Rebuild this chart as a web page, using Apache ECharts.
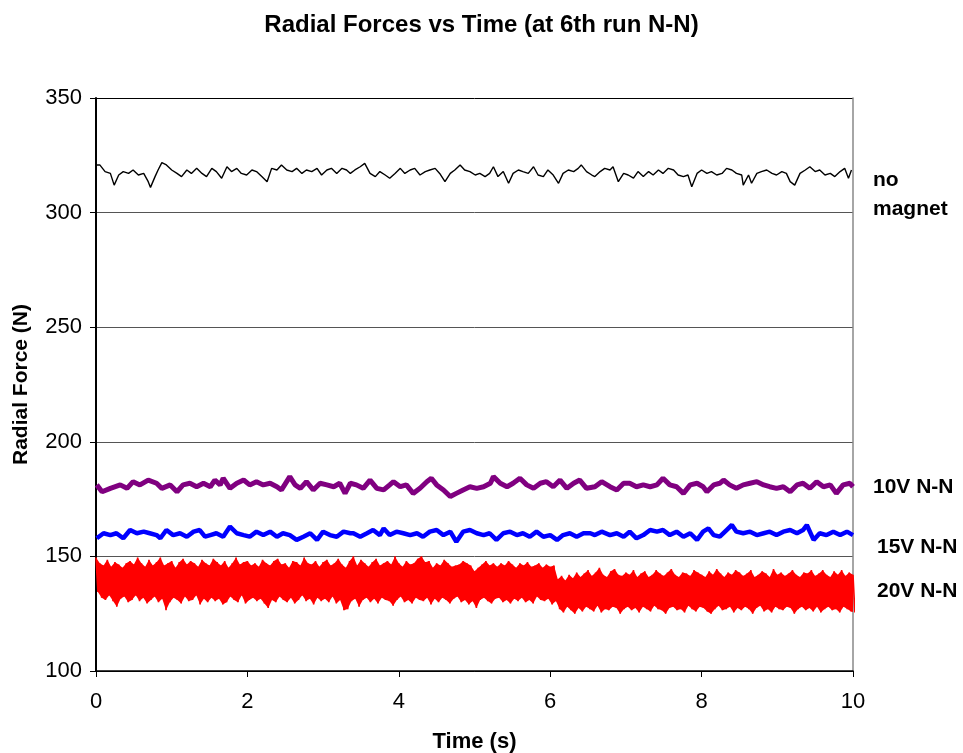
<!DOCTYPE html>
<html>
<head>
<meta charset="utf-8">
<script src="https://cdn.jsdelivr.net/npm/echarts@6/dist/echarts.min.js"></script>
<style>
html,body{margin:0;padding:0;background:#fff;}
#chart{width:963px;height:753px;}
</style>
</head>
<body>
<div id="chart"></div>
<script>
// ---- data ----
const titleText = "Radial Forces vs Time (at 6th run N-N)";
const xName = "Time (s)";
const yName = "Radial Force (N)";
const xTicks = [0, 2, 4, 6, 8, 10];
const yTicks = [100, 150, 200, 250, 300, 350];
const seriesNames = ["no magnet", "10V N-N", "15V N-N", "20V N-N"];

const blackT = [0.01,0.05,0.12,0.19,0.24,0.30,0.36,0.43,0.49,0.56,0.63,0.69,0.72,0.78,0.82,0.87,0.93,1.00,1.07,1.13,1.20,1.26,1.33,1.40,1.46,1.53,1.59,1.66,1.73,1.79,1.86,1.92,1.99,2.06,2.12,2.19,2.26,2.32,2.39,2.45,2.52,2.59,2.65,2.72,2.78,2.85,2.92,2.98,3.05,3.11,3.18,3.25,3.31,
3.36,3.42,3.49,3.55,3.62,3.69,3.75,3.82,3.88,3.95,4.02,4.08,4.15,4.21,4.28,4.35,4.41,4.48,4.54,4.61,4.68,4.74,4.81,4.87,4.94,5.01,5.07,5.14,5.20,5.25,5.31,5.38,5.45,5.51,5.58,5.64,5.71,5.78,5.84,5.91,5.97,6.04,6.11,6.17,6.24,6.31,6.37,6.41,6.48,6.55,
6.59,6.66,6.72,6.79,6.83,6.90,6.97,7.03,7.10,7.16,7.23,7.30,7.36,7.43,7.49,7.56,7.63,7.69,7.76,7.82,7.87,7.94,8.00,8.07,8.13,8.20,8.27,8.33,8.40,8.46,8.53,8.55,8.62,8.66,8.73,8.79,8.86,8.93,8.99,9.06,9.12,9.17,9.23,9.30,9.37,9.43,9.50,9.56,9.63,9.70,9.76,9.83,9.89,9.94,9.98];
const blackF = [320.8,320.8,317.9,317.1,312.0,316.4,317.9,317.1,318.6,316.4,317.1,313.5,311.0,315.7,318.6,321.8,320.8,318.6,317.1,315.7,318.6,317.1,319.3,317.1,315.7,319.3,317.9,315.0,320.0,317.9,319.3,317.1,316.4,318.6,317.9,315.7,313.5,319.3,318.6,320.8,318.6,317.9,319.3,317.1,318.6,317.9,319.3,316.4,318.6,319.3,317.1,319.3,318.6,
317.1,318.6,320.0,321.5,317.1,315.7,317.9,316.4,315.0,317.1,319.3,317.1,318.6,319.3,316.4,317.9,318.6,319.3,317.1,313.5,317.1,318.6,320.8,318.6,317.9,316.4,317.1,315.7,317.1,320.0,315.7,317.9,312.8,317.1,318.6,317.9,317.1,320.0,316.4,315.7,318.6,316.4,312.8,317.1,318.6,317.9,319.3,320.8,317.9,316.4,
315.7,317.9,319.3,318.6,320.0,313.5,317.1,316.4,315.0,317.9,315.7,317.9,316.4,318.6,317.1,319.3,318.6,316.4,315.7,316.4,311.3,317.1,318.6,317.1,317.9,316.4,317.1,319.3,318.6,317.1,316.4,312.0,316.4,312.8,317.1,317.9,318.6,317.1,316.4,317.9,317.1,313.5,312.0,317.1,318.6,320.0,317.9,318.6,316.4,317.1,315.7,317.9,319.3,315.0,318.6];

const purpleT = [0.01,0.08,0.19,0.32,0.41,0.49,0.58,0.69,0.80,0.87,0.98,1.07,1.15,1.24,1.33,1.42,1.51,1.57,1.64,1.68,1.77,1.86,1.95,2.03,2.12,2.21,2.30,2.39,2.45,2.56,2.63,2.70,2.78,2.87,2.96,3.05,3.14,3.22,3.29,
3.36,3.44,3.53,3.62,3.71,3.80,3.88,3.93,4.02,4.10,4.19,4.28,4.37,4.43,4.50,4.59,4.68,4.76,4.85,4.94,5.03,5.12,5.21,5.25,5.34,5.43,5.51,5.60,5.69,5.78,5.87,5.95,6.04,6.13,6.22,6.31,6.39,6.48,
6.59,6.68,6.79,6.88,6.97,7.05,7.14,7.23,7.32,7.41,7.49,7.58,7.67,7.76,7.85,7.94,8.02,8.07,8.16,8.24,8.29,8.37,8.46,8.55,8.64,8.73,8.82,8.90,8.99,9.08,9.17,9.26,9.34,9.43,9.52,9.61,9.70,9.78,9.87,9.96,10.0];
const purpleF = [181.2,178.2,179.7,181.2,179.7,182.6,181.2,183.3,181.9,179.7,181.2,178.2,181.2,181.9,180.4,181.9,180.4,183.3,181.2,184.1,179.7,181.9,183.3,181.2,182.6,181.2,181.9,180.4,179.0,184.8,181.2,179.7,182.6,179.0,181.9,181.2,180.4,181.9,177.5,
181.9,181.2,179.7,183.3,179.7,179.0,181.2,182.6,180.4,181.2,177.5,179.7,182.6,184.1,181.2,179.0,176.1,177.5,179.0,180.4,179.7,180.4,181.9,184.8,181.9,180.4,181.9,184.1,181.2,179.7,181.9,182.6,180.4,183.3,179.7,181.9,183.3,179.7,
180.4,182.6,180.4,179.0,181.9,181.9,180.4,181.2,180.4,181.2,184.1,181.2,180.4,177.5,181.2,181.9,180.4,178.2,181.2,181.9,183.3,181.2,179.7,181.2,181.9,182.6,181.2,180.4,179.7,180.4,178.2,181.2,181.9,179.7,182.6,180.4,181.2,177.5,181.2,181.9,180.4];

const blueT = [0.01,0.10,0.19,0.27,0.36,0.45,0.54,0.63,0.71,0.80,0.85,0.93,1.02,1.11,1.20,1.29,1.37,1.44,1.51,1.59,1.68,1.77,1.86,1.95,2.03,2.12,2.21,2.30,2.39,2.47,2.56,2.65,2.74,2.83,2.92,3.00,3.09,3.18,3.27,3.36,
3.40,3.49,3.58,3.66,3.75,3.80,3.88,3.97,4.06,4.15,4.24,4.32,4.41,4.50,4.59,4.68,4.76,4.85,4.94,5.03,5.12,5.20,5.29,5.38,5.47,5.56,5.64,5.73,5.82,5.91,6.00,6.09,6.17,6.26,6.35,6.44,
6.53,6.59,6.68,6.79,6.88,6.97,7.05,7.14,7.23,7.32,7.41,7.49,7.58,7.67,7.76,7.85,7.94,8.02,8.09,8.16,8.24,8.33,8.40,8.46,8.55,8.64,8.73,8.82,8.90,8.99,9.08,9.17,9.26,9.34,9.39,9.48,9.56,9.65,9.74,9.83,9.92,10.0];
const blueF = [157.9,160.1,159.3,160.1,157.9,161.5,160.1,160.8,160.1,159.3,157.9,161.5,159.3,160.1,158.6,160.8,161.5,158.6,159.3,160.1,158.6,163.0,160.1,159.3,158.6,160.8,159.3,160.8,158.6,160.1,159.3,157.2,158.6,160.1,157.2,160.8,159.3,158.6,160.8,160.1,
160.1,158.6,160.1,161.5,159.3,162.2,159.3,160.8,160.1,159.3,160.1,158.6,160.8,161.5,159.3,160.8,156.4,160.8,161.5,160.1,159.3,160.1,157.2,160.1,160.8,159.3,160.1,158.6,160.8,158.6,159.3,157.2,159.3,160.1,158.6,160.1,
160.1,159.3,160.8,159.3,160.1,158.6,160.8,157.9,159.3,161.5,160.8,161.5,159.3,160.8,158.6,160.1,157.2,160.8,162.2,159.3,158.6,161.5,163.7,160.8,160.1,160.8,159.3,160.1,160.8,159.3,160.8,161.5,160.1,161.5,163.7,157.2,160.1,159.3,160.8,159.3,160.8,159.3];

// 20V: upper and lower peaks of the noise band, one pair every 0.05 s
const redStep = 0.05;
const redHigh = [149.5,147,146,148.5,145.5,147.5,146.5,145,147,148,
146.5,149.5,147,145.5,148.5,146,147.5,149.5,146,147,
148,145,147.5,149,146.5,148,147,145.5,148.5,147,
146,149,147.5,146,148,145,147,149.5,146.5,147.5,
148,146,147,145.5,148.5,147,146,148,149,146.5,
147,145,148,147.5,146,149.5,147,146.5,148,145.5,
147.5,148.5,146,147,149,146.5,145,148,150,146,
148.5,147,145.5,147.5,149,146,147,148,146.5,150,
147,145.5,148,146.5,147,149,150,147.5,148,145,
147,146,148.5,147,145.5,146,146.5,148,147,146,
143.5,145,146.5,148,146,147,145.5,147,146,148,
146.5,145,147,146,147.5,145.5,146,147,145,146.5,
145.5,146,
140,141.5,139.5,142,140.5,143,141,142.5,
144,141.5,143,145,142,141,143.5,144.5,142,141.5,
143,142,144,141,142.5,143.5,141,142,144,142.5,
141.5,143,144.5,142,141,143,142.5,141.5,144,143,
142,141,143.5,142,144.5,142.5,141,143,142,144,
143,141.5,142.5,144,141,142,143.5,142.5,141,144.5,
142,143,141.5,142.5,144,142,141,143,142.5,144,
141.5,142.5,144,142,141,143.5,142,144,141.5,143,
142];
const redLow = [134.5,132,131,133,130.5,128,131.5,132.5,130,131,
133,130.5,132,129.5,131,132.5,130,131.5,126.5,130,
132,131,129.5,132.5,130.5,131,133,129,131.5,130,
132,130.5,131.5,129,130,132.5,131,130,133,129.5,
131,132,130.5,131.5,129.5,127.5,131,130,132.5,131,
130,132,129.5,131,133,130.5,131.5,129,132,130.5,
131.5,130,132.5,129.5,131,126.5,127,130.5,131.5,128,
131,132,130,131.5,129.5,132,131,130.5,128.5,131,
132.5,130,131,129.5,132,131,130.5,132,129,131.5,
130,132,131,129.5,131.5,132.5,130,131,129,130.5,
127.5,131,132,130.5,129.5,131.5,132,130,131,129.5,
131.5,130.5,132,130,131,129.5,132.5,131,130.5,131.5,
129,130.5,
127,125.5,128,126.5,125,127.5,126,128,
127,126,128.5,125.5,127,126.5,128,127.5,125,127,
128,126.5,127.5,125.5,128,127,126,128.5,127,126.5,
125,127.5,128,126.5,127,125.5,128.5,127,126,128,
127.5,126,125,127,128.5,126.5,127,128,125.5,127.5,
126.5,128,127,125,127.5,128.5,126,127,125.5,128,
127,126.5,128,127.5,125,127,128,126.5,127.5,126,
128,125.5,127,128,126.5,127,125.5,128,127,126,
125.5];

// ---- build series data ----
const pairs = (ts, vs) => ts.map((t, i) => [t, vs[i]]);
const redZig = [];
redHigh.forEach((h, i) => {
  redZig.push([i * redStep, h]);
  redZig.push([i * redStep + redStep / 2, redLow[i]]);
});

const FONT = "'Liberation Sans', Arial, sans-serif";
const chart = echarts.init(document.getElementById('chart'), null, {renderer: 'canvas'});

const labelStyle = {fontFamily: FONT, fontWeight: 'bold', fontSize: 21, fill: '#000'};

// filled body of the 20V noise band (between the upper and lower peaks)
function renderRedBand(params, api) {
  if (params.dataIndex !== 0) return null;
  const pts = [];
  for (let i = 0; i < redHigh.length; i++) pts.push(api.coord([i * redStep, redHigh[i]]));
  for (let i = redLow.length - 1; i >= 0; i--) pts.push(api.coord([i * redStep + redStep / 2, redLow[i]]));
  return {type: 'polygon', shape: {points: pts}, style: {fill: '#FF0000', stroke: null}};
}

chart.setOption({
  animation: false,
  backgroundColor: '#fff',
  title: {
    text: titleText,
    left: 'center',
    top: 8,
    textStyle: {fontFamily: FONT, fontWeight: 'bold', fontSize: 24, color: '#000'}
  },
  grid: {left: 96, right: 110, top: 98, bottom: 82, containLabel: false, outerBoundsMode: 'none'},
  xAxis: {
    type: 'value',
    min: xTicks[0], max: xTicks[xTicks.length - 1], interval: 2,
    name: xName, nameLocation: 'middle', nameGap: 60,
    nameTextStyle: {fontFamily: FONT, fontWeight: 'bold', fontSize: 22, color: '#000'},
    axisLine: {lineStyle: {color: '#000', width: 1.5}},
    axisTick: {show: true, length: 6, lineStyle: {color: '#000'}},
    axisLabel: {fontFamily: FONT, fontSize: 22, color: '#000', margin: 20},
    splitLine: {show: false}
  },
  yAxis: [{
    type: 'value',
    min: yTicks[0], max: yTicks[yTicks.length - 1], interval: 50,
    name: yName, nameLocation: 'middle', nameGap: 64, nameRotate: 90,
    nameTextStyle: {fontFamily: FONT, fontWeight: 'bold', fontSize: 21, color: '#000'},
    axisLine: {show: true, lineStyle: {color: '#000', width: 2}},
    axisTick: {show: true, length: 6, lineStyle: {color: '#000'}},
    axisLabel: {fontFamily: FONT, fontSize: 22, color: '#000', margin: 14},
    splitLine: {show: true, lineStyle: {color: ['#000', '#555', '#555', '#555', '#555', '#000'], width: 1}}
  }, {
    type: 'value', position: 'right',
    min: yTicks[0], max: yTicks[yTicks.length - 1], interval: 50,
    axisLine: {show: true, lineStyle: {color: '#888', width: 1.5}},
    axisTick: {show: false}, axisLabel: {show: false}, splitLine: {show: false}
  }],
  series: [
    {name: 'redBand', type: 'custom', renderItem: renderRedBand, data: [[0, redLow[0]]],
     clip: true, silent: true, z: 1},
    {name: seriesNames[3], type: 'line', data: redZig, showSymbol: false, clip: true,
     lineStyle: {color: '#FF0000', width: 1.6}, z: 2},
    {name: seriesNames[2], type: 'line', data: pairs(blueT, blueF), showSymbol: false,
     lineStyle: {color: '#0000FF', width: 4.5}, z: 3},
    {name: seriesNames[1], type: 'line', data: pairs(purpleT, purpleF), showSymbol: false,
     lineStyle: {color: '#800080', width: 5}, z: 4},
    {name: seriesNames[0], type: 'line', data: pairs(blackT, blackF), showSymbol: false,
     lineStyle: {color: '#000', width: 1.4}, z: 5}
  ],
  graphic: [
    {type: 'text', left: 873, top: 170, style: Object.assign({text: 'no'}, labelStyle)},
    {type: 'text', left: 873, top: 199, style: Object.assign({text: 'magnet'}, labelStyle)},
    {type: 'text', left: 873, top: 477, style: Object.assign({text: seriesNames[1]}, labelStyle)},
    {type: 'text', left: 877, top: 537, style: Object.assign({text: seriesNames[2]}, labelStyle)},
    {type: 'text', left: 877, top: 581, style: Object.assign({text: seriesNames[3]}, labelStyle)}
  ]
});
</script>
</body>
</html>
